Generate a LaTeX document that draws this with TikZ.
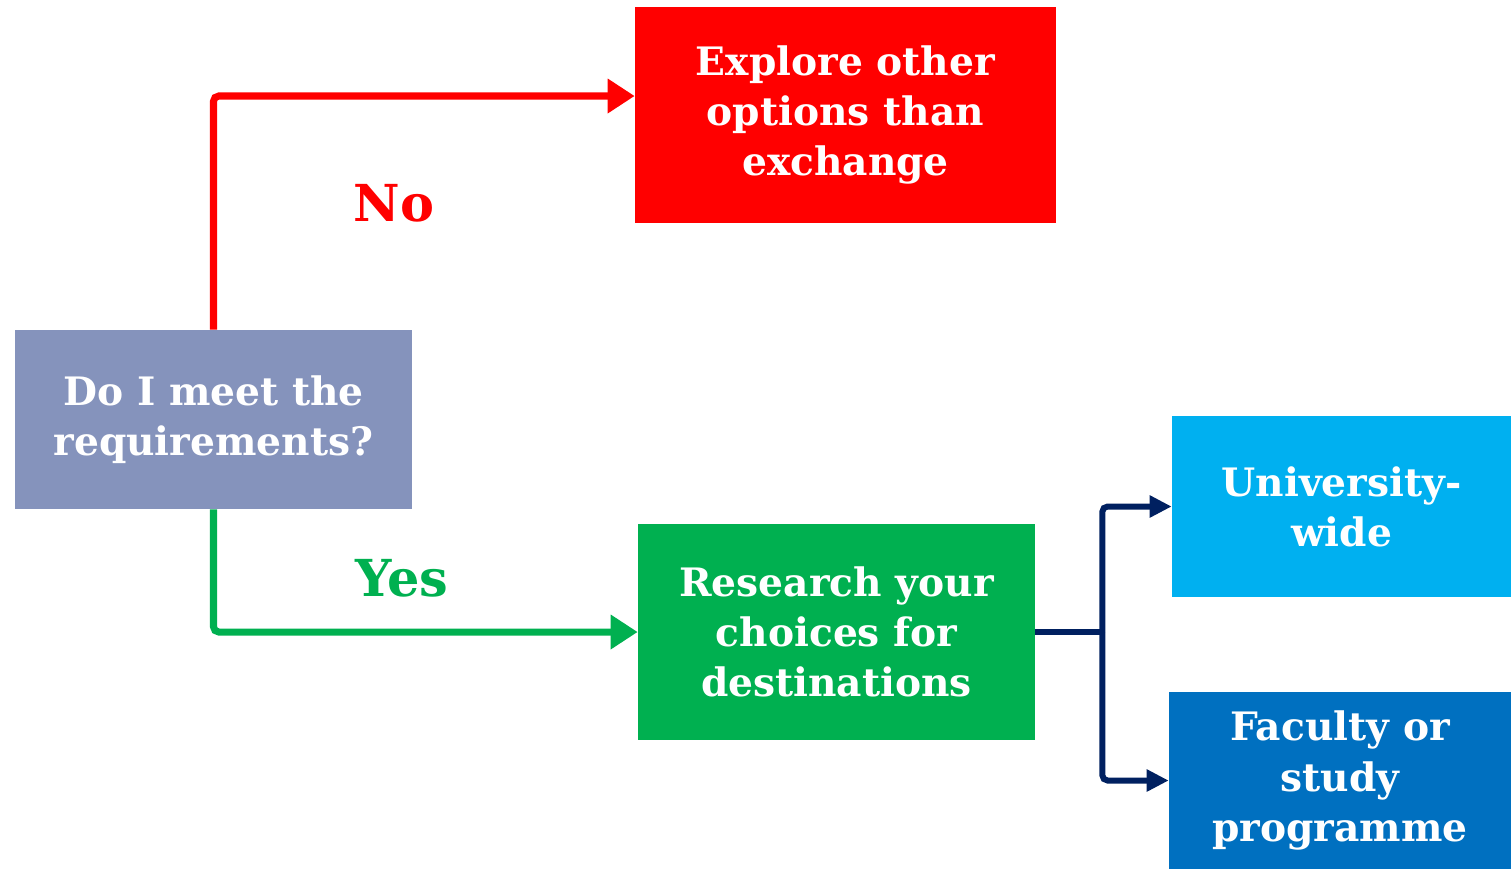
\documentclass[tikz,border=0pt]{standalone}
\usepackage{fontspec}
\setmainfont{DejaVu Serif}
\usepackage{tikz}
\usetikzlibrary{arrows.meta}
\definecolor{slate}{RGB}{133,147,188}
\definecolor{exred}{RGB}{255,0,0}
\definecolor{okgreen}{RGB}{0,176,80}
\definecolor{skyblue}{RGB}{0,176,240}
\definecolor{deepblue}{RGB}{0,112,192}
\definecolor{navy}{RGB}{0,32,96}
\tikzset{%
    box/.style={%
        draw=none, fill=#1, text=white, align=center,
        font=\bfseries\fontsize{22.3}{28.5}\selectfont, inner sep=0pt
    },
    flow/.style={%
        line width=4pt, rounded corners=3pt,
        -{Triangle[length=0.54cm,width=0.66cm]}
    },
    branch/.style={%
        line width=3.4pt, rounded corners=3pt, draw=navy,
        -{Triangle[length=0.44cm,width=0.42cm]}
    },
    answer/.style={font=\bfseries\fontsize{29}{34}\selectfont}
}

\begin{document}
\begin{tikzpicture}[x=0.02cm,y=-0.02cm]
    \useasboundingbox (0,0) rectangle (1511,870);

    \node[box=slate, minimum width=7.94cm, minimum height=3.58cm] (question) at (213.5,419.5) {Do I meet the\\requirements?};
    \node[box=exred, minimum width=8.42cm, minimum height=4.32cm] (explore) at (845.5,115) {Explore other\\options than\\exchange};
    \node[box=okgreen, minimum width=7.94cm, minimum height=4.32cm] (research) at (836.5,632) {Research your\\choices for\\destinations};
    \node[box=skyblue, minimum width=6.78cm, minimum height=3.62cm] (univ) at (1341.5,506.5) {University-\\wide};
    \node[box=deepblue, minimum width=6.84cm, minimum height=3.54cm] (faculty) at (1340,780.5) {Faculty or\\study\\programme};

    % answers
    \draw[flow,draw=exred] (question.north) |- ([yshift=0.38cm]explore.west);
    \draw[flow,draw=okgreen] (question.south) |- (research.west);
    \node[answer,text=exred] (no) at (394,203) {No};
    \node[answer,text=okgreen] (yes) at (402,578) {Yes};

    % destinations
    \draw[line width=3.4pt,navy] (research.east) -- ++(67,0) coordinate (split);
    \draw[branch] (split) |- (univ.west);
    \draw[branch] (split) |- (faculty.west);
\end{tikzpicture}
\end{document}
